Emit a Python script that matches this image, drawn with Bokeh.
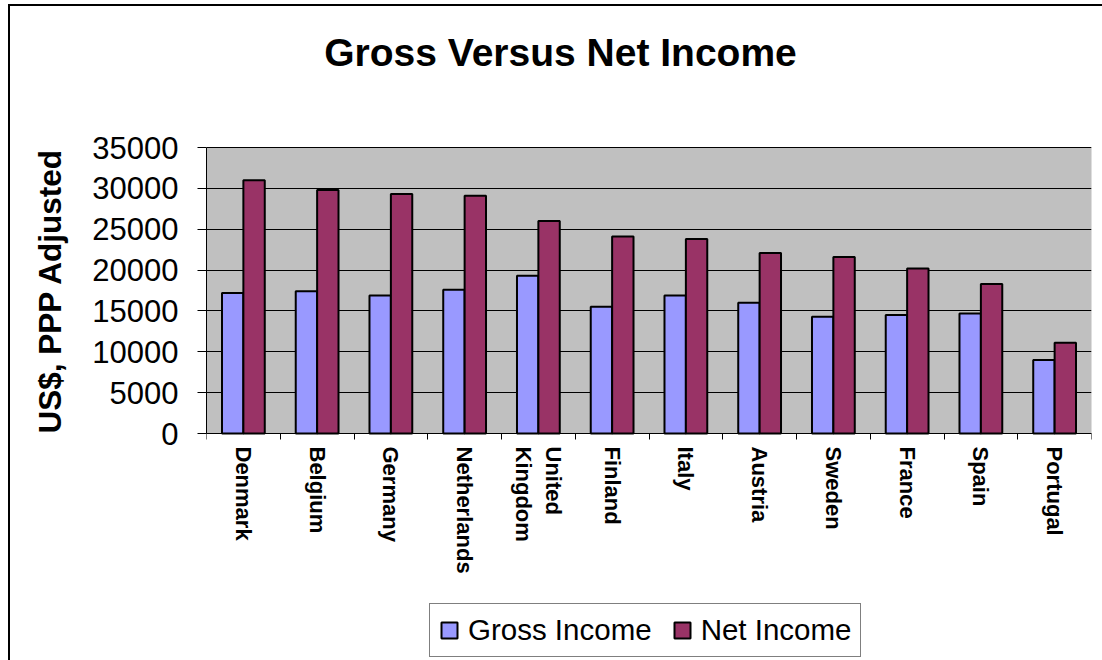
import numpy as np
from bokeh.plotting import figure
from bokeh.models import (Range1d, FixedTicker, Legend, LegendItem, ColumnDataSource,
                          BoxAnnotation, Label, Title)
from bokeh.transform import dodge
from bokeh.embed import file_html
from bokeh.resources import INLINE

# ---- data ----
countries = ["Denmark", "Belgium", "Germany", "Netherlands", "United\nKingdom", "Finland",
             "Italy", "Austria", "Sweden", "France", "Spain", "Portugal"]
gross_income = [17200, 17400, 16900, 17600, 19300, 15500, 16900, 16000, 14300, 14500, 14700, 9000]
net_income = [31000, 29800, 29300, 29100, 26000, 24100, 23800, 22100, 21600, 20200, 18300, 11100]
y_ticks = [0, 5000, 10000, 15000, 20000, 25000, 30000, 35000]
y_max = 35000

FONT = "Liberation Sans"
W, H = 1102, 660
PLOT_TOP, PLOT_BOTTOM = 147, 433     # pixel rows of the grey plot area
n = len(countries)
centers = np.arange(n) + 0.5
src = ColumnDataSource(dict(x=centers, gross=gross_income, net=net_income))

# the frame spans the full height; the value range is stretched so 0..35000 maps to the plot area
per_px = y_max / (PLOT_BOTTOM - PLOT_TOP)
y_lo = -(H - PLOT_BOTTOM) * per_px
y_hi = y_max + PLOT_TOP * per_px

p = figure(width=W, height=H, output_backend="svg", toolbar_location=None,
           x_range=Range1d(0, n), y_range=Range1d(y_lo, y_hi),
           min_border_left=206, min_border_right=11, min_border_top=0, min_border_bottom=0)
p.title_location = None
p.background_fill_color = "white"
p.border_fill_color = "white"
p.outline_line_color = None

# grey plot area
p.add_layout(BoxAnnotation(bottom=0, top=y_max, fill_color="#C0C0C0", fill_alpha=1,
                           line_color="#808080", line_width=1, level="image"))

bw = 0.29
r_gross = p.vbar(x=dodge("x", -0.145), top="gross", width=bw, source=src,
                 fill_color="#9999FF", line_color="black", line_width=2)
r_net = p.vbar(x=dodge("x", 0.145), top="net", width=bw, source=src,
               fill_color="#993366", line_color="black", line_width=2)

# grid
p.xgrid.visible = False
p.ygrid.ticker = FixedTicker(ticks=y_ticks)
p.ygrid.grid_line_color = "black"
p.ygrid.grid_line_width = 1

# y axis
ya = p.yaxis[0]
ya.ticker = FixedTicker(ticks=y_ticks)
ya.bounds = (0, y_max)
ya.axis_line_color = "black"
ya.major_tick_out = 9
ya.major_tick_in = 0
ya.minor_tick_out = 0
ya.major_tick_line_color = "black"
ya.major_label_text_font = FONT
ya.major_label_text_font_size = "31px"
ya.major_label_text_color = "black"
ya.major_label_standoff = 19

# y axis title, aligned with the grey plot area
p.add_layout(Title(text="US$, PPP Adjusted", align="left", offset=H - PLOT_BOTTOM,
                   standoff=44, text_font=FONT, text_font_size="31.5px",
                   text_font_style="bold", text_color="black"), "left")

# x axis drawn at value 0: labels at centers, ticks at boundaries (minor)
xa = p.xaxis[0]
xa.fixed_location = 0
xa.ticker = FixedTicker(ticks=list(centers), minor_ticks=list(range(n + 1)))
xa.major_label_overrides = {float(c): name for c, name in zip(centers, countries)}
xa.major_tick_out = 0
xa.major_tick_in = 0
xa.minor_tick_out = 6
xa.minor_tick_in = 0
xa.minor_tick_line_color = "black"
xa.axis_line_color = "black"
xa.major_label_orientation = -np.pi / 2
xa.major_label_text_font = FONT
xa.major_label_text_font_size = "22px"
xa.major_label_text_font_style = "bold"
xa.major_label_text_color = "black"
xa.major_label_standoff = 7

# chart title
p.add_layout(Label(x=560 - 206, y=H - 52, x_units="screen", y_units="screen",
                   text="Gross Versus Net Income", text_font=FONT, text_font_size="39px",
                   text_font_style="bold", text_align="center", text_baseline="alphabetic",
                   text_color="black"))

# legend
legend = Legend(items=[LegendItem(label="Gross Income", renderers=[r_gross]),
                       LegendItem(label="Net Income", renderers=[r_net])],
                orientation="horizontal", location=(429 - 206, H - 657),
                label_text_font=FONT, label_text_font_size="29.5px", label_text_color="black",
                glyph_width=20, glyph_height=20, label_standoff=9, spacing=20,
                padding=9, margin=0, border_line_color="black", border_line_width=1,
                background_fill_color="white", background_fill_alpha=1.0)
p.add_layout(legend, "center")

# outer chart border (left and top edges visible, as in the reference)
p.stylesheets = [
    ":host { position: relative; }"
    ":host::after { content: ''; position: absolute; left: 8px; top: 4px; width: 1094px; height: 656px;"
    " border-left: 2px solid black; border-top: 2px solid black; box-sizing: border-box;"
    " pointer-events: none; z-index: 100; }"
]

open("out.html", "w").write(file_html(p, INLINE))
